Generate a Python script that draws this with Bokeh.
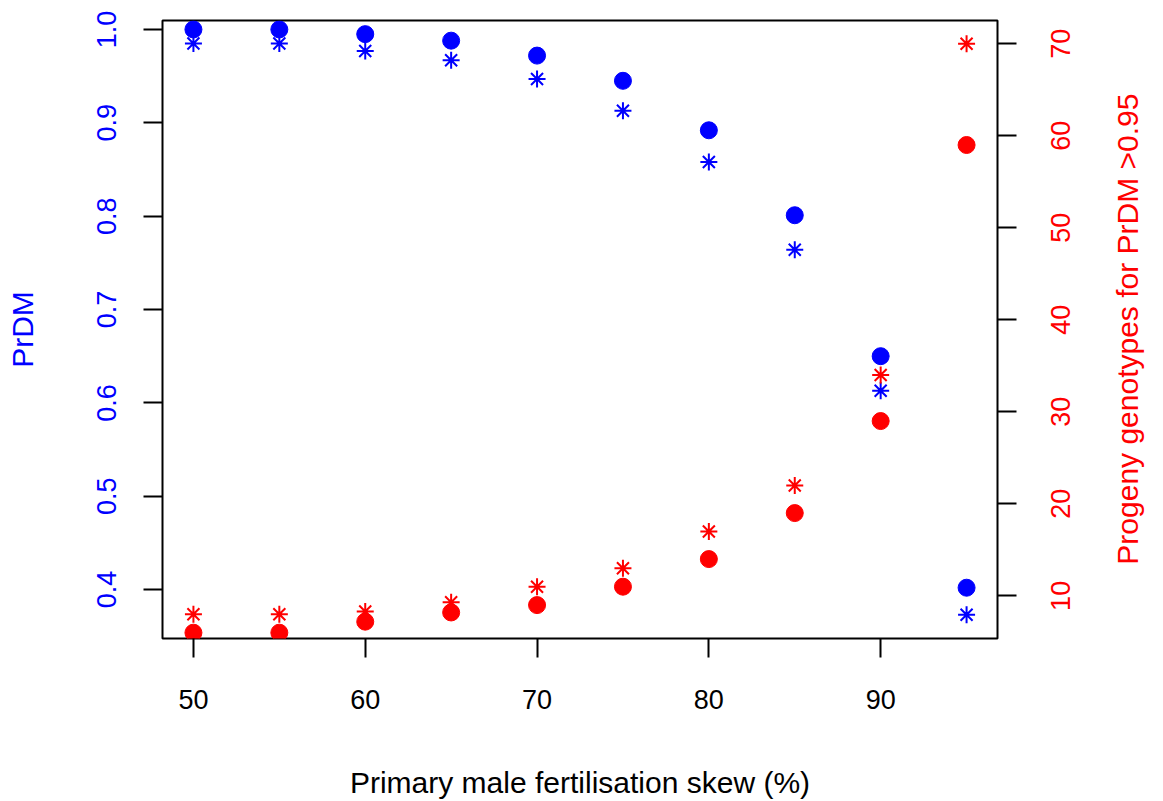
import math
from bokeh.plotting import figure
from bokeh.models import (Range1d, LinearAxis, FixedTicker, PrintfTickFormatter, ColumnDataSource,
                          CustomJSTickFormatter)
from bokeh.embed import file_html
from bokeh.resources import INLINE

# ---- data ----
skew = [50, 55, 60, 65, 70, 75, 80, 85, 90, 95]
prdm_dot = [1.000, 1.000, 0.995, 0.988, 0.972, 0.945, 0.892, 0.801, 0.650, 0.402]
prdm_star = [0.985, 0.985, 0.977, 0.967, 0.947, 0.913, 0.858, 0.764, 0.613, 0.373]
geno_dot = [6, 6, 7.2, 8.2, 9.0, 11, 14, 19, 29, 59]
geno_star = [8, 8, 8.3, 9.3, 11, 13, 17, 22, 34, 70]

x_ticks = [50, 60, 70, 80, 90]
left_ticks = [0.4, 0.5, 0.6, 0.7, 0.8, 0.9, 1.0]
right_ticks = [10, 20, 30, 40, 50, 60, 70]

x_title = "Primary male fertilisation skew (%)"
left_title = "PrDM"
right_title = "Progeny genotypes for PrDM >0.95"

BLUE = "#0000ff"
RED = "#ff0000"
FONT = "Liberation Sans"
TICK_PX = 27
LAB_PX = 30
TICK_FS = f"{TICK_PX}px"
LAB_FS = f"{LAB_PX}px"

X_RANGE = (48.2, 96.8)
Y_RANGE = (0.3476, 1.0096)
Y2_RANGE = (5.37, 72.53)
FRAME_TOP, FRAME_BOTTOM = 20, 639

src = ColumnDataSource(dict(x=skew, pd=prdm_dot, ps=prdm_star, gd=geno_dot, gs=geno_star))

p = figure(width=1163, height=801, output_backend="svg", toolbar_location=None,
           x_range=Range1d(*X_RANGE), y_range=Range1d(*Y_RANGE),
           min_border_left=162, min_border_right=166, min_border_top=FRAME_TOP,
           min_border_bottom=801 - FRAME_BOTTOM)
p.extra_y_ranges = {"geno": Range1d(*Y2_RANGE)}
p.grid.visible = False
p.outline_line_color = "black"
p.outline_line_width = 2
p.background_fill_color = "white"
p.border_fill_color = "white"

def style_axis(ax, color):
    ax.axis_line_color = None
    ax.major_tick_line_color = "black"
    ax.major_tick_line_width = 2
    ax.major_tick_out = 19
    ax.major_tick_in = 0
    ax.minor_tick_line_color = None
    ax.major_label_text_font = FONT
    ax.major_label_text_font_size = TICK_FS
    ax.major_label_text_color = color
    ax.axis_label_text_font = FONT
    ax.axis_label_text_font_size = LAB_FS
    ax.axis_label_text_font_style = "normal"
    ax.axis_label_text_color = color

# bottom axis
xa = p.xaxis[0]
style_axis(xa, "black")
xa.ticker = FixedTicker(ticks=x_ticks)
xa.major_label_standoff = 32
xa.axis_label = x_title
xa.axis_label_standoff = 54

# left axis
ya = p.yaxis[0]
style_axis(ya, BLUE)
ya.ticker = FixedTicker(ticks=left_ticks)
ya.formatter = PrintfTickFormatter(format="%.1f")
ya.major_label_orientation = "vertical"
ya.major_label_standoff = 27
ya.axis_label = left_title
ya.axis_label_standoff = 56

# ---- right side: texts read bottom to top as in the reference ----
units_per_px = (Y2_RANGE[1] - Y2_RANGE[0]) / (FRAME_BOTTOM - FRAME_TOP)

# tick marks (drawn as the "minor" ticks, at the true values) and numbers;
# a rotated label starts at its anchor, so the number's anchor is moved down
# by half the label's length to centre it on its tick
half_num = 0.5 * 2 * 0.556 * TICK_PX * units_per_px
rb = LinearAxis(y_range_name="geno")
style_axis(rb, RED)
rb.major_tick_out = 0
rb.major_tick_line_color = None
rb.minor_tick_out = 19
rb.minor_tick_in = 0
rb.minor_tick_line_color = "black"
rb.minor_tick_line_width = 2
rb.ticker = FixedTicker(ticks=[t - half_num for t in right_ticks], minor_ticks=right_ticks)
rb.formatter = CustomJSTickFormatter(args=dict(d=half_num),
                                     code="return Math.round(tick + d).toFixed(0)")
rb.major_label_orientation = math.pi / 2
rb.major_label_standoff = 44
p.add_layout(rb, "right")

# right-hand title, centred on the frame the same way
title_len_px = 15.702 * LAB_PX
mid = (Y2_RANGE[0] + Y2_RANGE[1]) / 2
rc = LinearAxis(y_range_name="geno")
style_axis(rc, RED)
rc.major_tick_out = 0
rc.major_tick_line_color = None
rc.major_label_text_font_size = LAB_FS
rc.ticker = FixedTicker(ticks=[mid - 0.5 * title_len_px * units_per_px])
rc.formatter = CustomJSTickFormatter(args=dict(t=right_title), code="return t")
rc.major_label_orientation = math.pi / 2
rc.major_label_standoff = 45
p.add_layout(rc, "right")

# marks
p.scatter("x", "pd", source=src, marker="circle", size=17, fill_color=BLUE, line_color=BLUE, line_width=1)
p.scatter("x", "ps", source=src, marker="asterisk", size=17, line_color=BLUE, line_width=2)
p.scatter("x", "gd", source=src, marker="circle", size=17, fill_color=RED, line_color=RED, line_width=1,
          y_range_name="geno")
p.scatter("x", "gs", source=src, marker="asterisk", size=17, line_color=RED, line_width=2,
          y_range_name="geno")

open("out.html", "w").write(file_html(p, INLINE))
